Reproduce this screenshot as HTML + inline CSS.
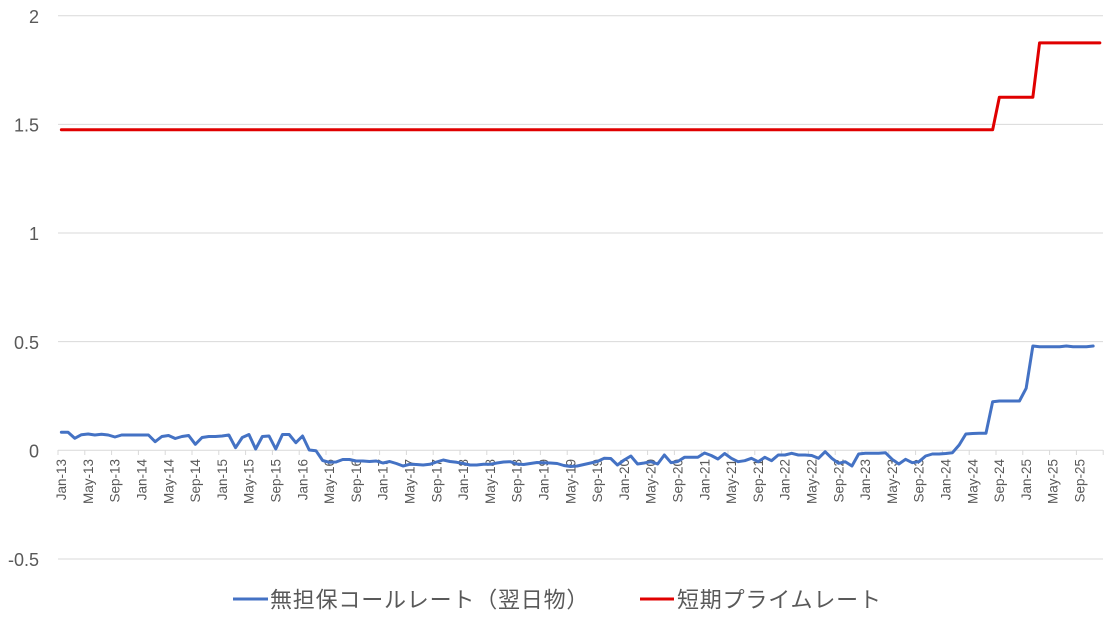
<!DOCTYPE html>
<html>
<head>
<meta charset="utf-8">
<style>
html,body{margin:0;padding:0;background:#fff;}
svg{display:block;}
text{font-family:"Liberation Sans","Noto Sans CJK JP",sans-serif;fill:#595959;}
</style>
</head>
<body>
<svg width="1104" height="618" viewBox="0 0 1104 618" xmlns="http://www.w3.org/2000/svg">
<rect width="1104" height="618" fill="#fff"/>
<!-- gridlines -->
<g stroke="#d9d9d9" stroke-width="1">
<line x1="58" y1="15.7" x2="1103" y2="15.7"/>
<line x1="58" y1="124.35" x2="1103" y2="124.35"/>
<line x1="58" y1="233" x2="1103" y2="233"/>
<line x1="58" y1="341.65" x2="1103" y2="341.65"/>
<line x1="58" y1="558.95" x2="1103" y2="558.95"/>
<line x1="58" y1="450.3" x2="1103" y2="450.3"/>
</g>
<!-- ticks -->
<path stroke="#d9d9d9" stroke-width="1" fill="none" d="M58,450v5M84.8,450v5M111.6,450v5M138.4,450v5M165.2,450v5M192,450v5M218.8,450v5M245.6,450v5M272.4,450v5M299.2,450v5M326,450v5M352.8,450v5M379.6,450v5M406.4,450v5M433.2,450v5M460,450v5M486.8,450v5M513.6,450v5M540.4,450v5M567.2,450v5M594,450v5M620.8,450v5M647.6,450v5M674.4,450v5M701.2,450v5M728,450v5M754.8,450v5M781.6,450v5M808.4,450v5M835.2,450v5M862,450v5M888.8,450v5M915.6,450v5M942.4,450v5M969.2,450v5M996,450v5M1022.8,450v5M1049.6,450v5M1076.4,450v5M1103.2,450v5"/>
<!-- y labels -->
<g font-size="18" text-anchor="end">
<text x="39" y="22.9">2</text>
<text x="39" y="131.6">1.5</text>
<text x="39" y="240.2">1</text>
<text x="39" y="348.9">0.5</text>
<text x="39" y="457.5">0</text>
<text x="39" y="566.2">-0.5</text>
</g>
<!-- x labels -->
<g font-size="13.5" text-anchor="end">
<text transform="translate(66.05,459) rotate(-90)">Jan-13</text>
<text transform="translate(92.85,459) rotate(-90)">May-13</text>
<text transform="translate(119.65,459) rotate(-90)">Sep-13</text>
<text transform="translate(146.45,459) rotate(-90)">Jan-14</text>
<text transform="translate(173.25,459) rotate(-90)">May-14</text>
<text transform="translate(200.05,459) rotate(-90)">Sep-14</text>
<text transform="translate(226.85,459) rotate(-90)">Jan-15</text>
<text transform="translate(253.65,459) rotate(-90)">May-15</text>
<text transform="translate(280.45,459) rotate(-90)">Sep-15</text>
<text transform="translate(307.25,459) rotate(-90)">Jan-16</text>
<text transform="translate(334.05,459) rotate(-90)">May-16</text>
<text transform="translate(360.85,459) rotate(-90)">Sep-16</text>
<text transform="translate(387.65,459) rotate(-90)">Jan-17</text>
<text transform="translate(414.45,459) rotate(-90)">May-17</text>
<text transform="translate(441.25,459) rotate(-90)">Sep-17</text>
<text transform="translate(468.05,459) rotate(-90)">Jan-18</text>
<text transform="translate(494.85,459) rotate(-90)">May-18</text>
<text transform="translate(521.65,459) rotate(-90)">Sep-18</text>
<text transform="translate(548.45,459) rotate(-90)">Jan-19</text>
<text transform="translate(575.25,459) rotate(-90)">May-19</text>
<text transform="translate(602.05,459) rotate(-90)">Sep-19</text>
<text transform="translate(628.85,459) rotate(-90)">Jan-20</text>
<text transform="translate(655.65,459) rotate(-90)">May-20</text>
<text transform="translate(682.45,459) rotate(-90)">Sep-20</text>
<text transform="translate(709.25,459) rotate(-90)">Jan-21</text>
<text transform="translate(736.05,459) rotate(-90)">May-21</text>
<text transform="translate(762.85,459) rotate(-90)">Sep-21</text>
<text transform="translate(789.65,459) rotate(-90)">Jan-22</text>
<text transform="translate(816.45,459) rotate(-90)">May-22</text>
<text transform="translate(843.25,459) rotate(-90)">Sep-22</text>
<text transform="translate(870.05,459) rotate(-90)">Jan-23</text>
<text transform="translate(896.85,459) rotate(-90)">May-23</text>
<text transform="translate(923.65,459) rotate(-90)">Sep-23</text>
<text transform="translate(950.45,459) rotate(-90)">Jan-24</text>
<text transform="translate(977.25,459) rotate(-90)">May-24</text>
<text transform="translate(1004.05,459) rotate(-90)">Sep-24</text>
<text transform="translate(1030.85,459) rotate(-90)">Jan-25</text>
<text transform="translate(1057.65,459) rotate(-90)">May-25</text>
<text transform="translate(1084.45,459) rotate(-90)">Sep-25</text>
</g>
<!-- series -->
<g transform="translate(61.35,0) scale(6.7,1)" fill="none" stroke-linejoin="round" stroke-linecap="round">
<polyline vector-effect="non-scaling-stroke" stroke="#4472C4" stroke-width="3" points="
0,432.3 1,432.3 2,438.3 3,434.7 4,434 5,435 6,434.3 7,435 8,437 9,435 10,435 11,435
12,435 13,435 14,441.7 15,436.5 16,435.5 17,438.5 18,436.5 19,435.5 20,444.3 21,437.5 22,436.5 23,436.5
24,436 25,435 26,447.7 27,437.5 28,434.5 29,449 30,436.5 31,436 32,449 33,434.5 34,434.5 35,442.7
36,436 37,450 38,450.7 39,460.5 40,462.3 41,462 42,459.5 43,459.5 44,461 45,461 46,461.5 47,461
48,463 49,461.5 50,463.5 51,466 52,464.3 53,464.5 54,465 55,464.3 56,462 57,460 58,461.5 59,462.3
60,463.5 61,465 62,465 63,464.3 64,464.3 65,463 66,462 67,461.7 68,464 69,464.5 70,463.5 71,462.5
72,462.7 73,463 74,463.5 75,465.5 76,466.5 77,466 78,464.5 79,463 80,461.5 81,458.3 82,458.5 83,465
84,460 85,456 86,464 87,463 88,461.7 89,464 90,455 91,462.7 92,461.5 93,457.3 94,457.3 95,457.3
96,453 97,455.5 98,459 99,453.5 100,458.3 101,461.7 102,460.7 103,458.3 104,461.7 105,457.3 106,460.7 107,455
108,455 109,453.3 110,455 111,455 112,455.5 113,458.3 114,451.7 115,458.3 116,463.3 117,461.7 118,466 119,454
120,453.3 121,453.3 122,453.3 123,452.7 124,459.3 125,464 126,459.3 127,462.7 128,461.7 129,456 130,454 131,454
132,453.5 133,452.7 134,445 135,434 136,433.5 137,433.3 138,433.3 139,401.7 140,401 141,401 142,401 143,401
144,388.3 145,346 146,346.7 147,346.7 148,346.7 149,346.7 150,346 151,346.7 152,346.7 153,346.7 154,346"/>
<polyline vector-effect="non-scaling-stroke" stroke="#E00000" stroke-width="3" points="0,129.8 139,129.8 140,97.2 145,97.2 146,42.9 155,42.9"/>
</g>
<!-- legend -->
<line x1="233" y1="599" x2="268" y2="599" stroke="#4472C4" stroke-width="3"/>
<text x="270" y="607.5" font-size="22" letter-spacing="0.8">無担保コールレート（翌日物）</text>
<line x1="640" y1="599" x2="674" y2="599" stroke="#E00000" stroke-width="3"/>
<text x="677" y="607.5" font-size="22" letter-spacing="0.8">短期プライムレート</text>
</svg>
</body>
</html>
